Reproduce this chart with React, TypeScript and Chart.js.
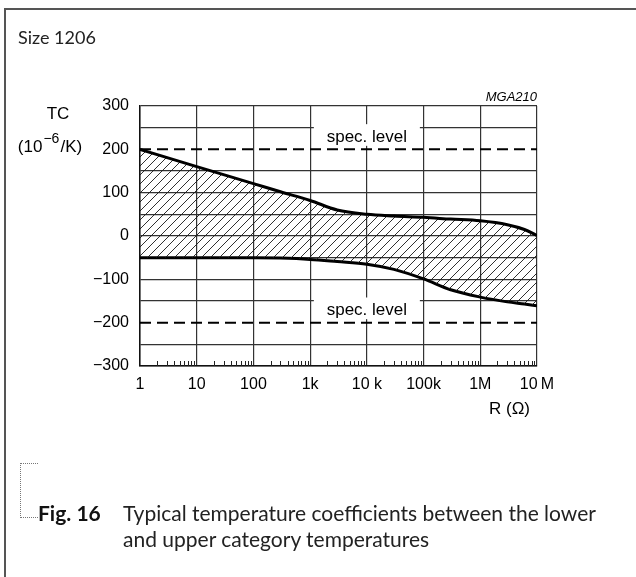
import React, { useEffect, useRef } from "react";
import { Chart, registerables } from "chart.js";

Chart.register(...registerables);

// ---- data ----
const R_OHM = [1, 10, 100, 300, 1e3, 3e3, 1e4, 3e4, 1e5, 3e5, 1e6, 3e6, 6e6, 1e7];
const TC_UPPER = [200, 160, 121, 102, 82, 60, 50, 46, 43, 39, 35, 26, 15, 1];
const TC_LOWER = [-50, -50, -50, -51, -54, -59, -65, -77, -99, -124, -141, -152, -157, -161];
const SPEC_R = [1, 1e7];
const SPEC_UPPER = [200, 200];
const SPEC_LOWER = [-200, -200];
const X_TICKS = [1, 10, 100, 1e3, 1e4, 1e5, 1e6, 1e7];
const X_TICK_LABELS = ["1", "10", "100", "1k", "10 k", "100k", "1M", "10\u2009M"];
const Y_TICKS = [300, 200, 100, 0, -100, -200, -300];
const Y_TICK_LABELS = ["300", "200", "100", "0", "\u2212100", "\u2212200", "\u2212300"];
const MINOR_STEPS = [2, 3, 4, 5, 6, 7, 8, 9];
const SPEC_LABEL = "spec. level";
const SPEC_LABEL_R = 1e4;
const Y_TITLE = "TC";
const Y_UNIT = ["(10", "\u22126", "/K)"];
const X_TITLE = "R (\u03A9)";
const CODE_LABEL = "MGA210";
const SIZE_LABEL = "Size 1206";
const CAPTION_FIG = "Fig. 16";
const CAPTION_LINES = [
  "Typical temperature coefficients between the lower",
  "and upper category temperatures",
];

const SANS = "'Liberation Sans', Arial, sans-serif";
const GRID = "#333";

function makeHatch(): CanvasPattern | string {
  const s = 9;
  const c = document.createElement("canvas");
  c.width = s;
  c.height = s;
  const g = c.getContext("2d");
  if (!g) return "rgba(0,0,0,0.2)";
  g.strokeStyle = "#1a1a1a";
  g.lineWidth = 0.9;
  g.beginPath();
  g.moveTo(-1, s + 1);
  g.lineTo(s + 1, -1);
  g.moveTo(-1, 1);
  g.lineTo(1, -1);
  g.moveTo(s - 1, s + 1);
  g.lineTo(s + 1, s - 1);
  g.stroke();
  return g.createPattern(c, "repeat") || "rgba(0,0,0,0.2)";
}

const decorPlugin = {
  id: "decor",
  afterDatasetsDraw(chart: any) {
    const { ctx, chartArea, scales } = chart;
    const x = scales.x;
    const y = scales.y;
    ctx.save();
    // minor ticks along the bottom edge
    ctx.strokeStyle = "#222";
    ctx.lineWidth = 1;
    ctx.beginPath();
    for (let i = 0; i < X_TICKS.length - 1; i++) {
      for (const m of MINOR_STEPS) {
        const px = Math.round(x.getPixelForValue(X_TICKS[i] * m)) + 0.5;
        ctx.moveTo(px, chartArea.bottom);
        ctx.lineTo(px, chartArea.bottom - 5);
      }
    }
    ctx.stroke();
    // spec level labels
    const cx = x.getPixelForValue(SPEC_LABEL_R);
    const levels = [SPEC_UPPER[0], SPEC_LOWER[0]];
    for (const lv of levels) {
      const lineY = y.getPixelForValue(lv);
      const gridY = y.getPixelForValue(lv + 50);
      const top = gridY - 3.5;
      const bottom = lineY - 3.5;
      ctx.fillStyle = "#fff";
      ctx.fillRect(cx - 53, top, 106, bottom - top);
      ctx.fillStyle = "#000";
      ctx.font = `17px ${SANS}`;
      ctx.textAlign = "center";
      ctx.textBaseline = "alphabetic";
      ctx.fillText(SPEC_LABEL, cx, lineY - 7.5);
    }
    ctx.restore();
  },
  afterDraw(chart: any) {
    const { ctx, chartArea } = chart;
    ctx.save();
    ctx.fillStyle = "#000";
    ctx.textBaseline = "alphabetic";
    // y title
    ctx.font = `17px ${SANS}`;
    ctx.textAlign = "center";
    ctx.fillText(Y_TITLE, chartArea.left - 82, chartArea.top + 13);
    // unit with superscript
    const big = `17px ${SANS}`;
    const small = `14px ${SANS}`;
    ctx.font = big;
    const w0 = ctx.measureText(Y_UNIT[0]).width;
    const w2 = ctx.measureText(Y_UNIT[2]).width;
    ctx.font = small;
    const w1 = ctx.measureText(Y_UNIT[1]).width;
    const gap = 1;
    const total = w0 + w1 + w2 + 2 * gap;
    const baseY = chartArea.top + 46;
    let sx = chartArea.left - 90 - total / 2;
    ctx.textAlign = "left";
    ctx.font = big;
    ctx.fillText(Y_UNIT[0], sx, baseY);
    sx += w0 + gap;
    ctx.font = small;
    ctx.fillText(Y_UNIT[1], sx, baseY - 9);
    sx += w1 + gap;
    ctx.font = big;
    ctx.fillText(Y_UNIT[2], sx, baseY);
    // code label
    ctx.font = `italic 13px ${SANS}`;
    ctx.textAlign = "right";
    ctx.fillText(CODE_LABEL, chartArea.right, chartArea.top - 5);
    // x title
    ctx.font = `17px ${SANS}`;
    ctx.textAlign = "right";
    ctx.fillText(X_TITLE, chartArea.right - 7, chartArea.bottom + 48);
    ctx.restore();
  },
};

export default function App() {
  const ref = useRef<HTMLCanvasElement>(null);

  useEffect(() => {
    if (!ref.current) return;
    const hatch = makeHatch();
    const toPts = (xs: number[], ys: number[]) => xs.map((v, i) => ({ x: v, y: ys[i] }));
    const chart = new Chart(ref.current, {
      type: "line",
      data: {
        datasets: [
          {
            data: toPts(R_OHM, TC_UPPER),
            borderColor: "#000",
            borderWidth: 3,
            pointRadius: 0,
            cubicInterpolationMode: "monotone",
            fill: "+1",
            backgroundColor: hatch as any,
          },
          {
            data: toPts(R_OHM, TC_LOWER),
            borderColor: "#000",
            borderWidth: 3,
            pointRadius: 0,
            cubicInterpolationMode: "monotone",
            fill: false,
          },
          {
            data: toPts(SPEC_R, SPEC_UPPER),
            borderColor: "#000",
            borderWidth: 2,
            borderDash: [11, 6],
            pointRadius: 0,
            fill: false,
          },
          {
            data: toPts(SPEC_R, SPEC_LOWER),
            borderColor: "#000",
            borderWidth: 2,
            borderDash: [11, 6],
            pointRadius: 0,
            fill: false,
          },
        ],
      },
      options: {
        animation: false,
        responsive: false,
        maintainAspectRatio: false,
        layout: { padding: { left: 0, top: 106, right: 99, bottom: 171 } },
        plugins: { legend: { display: false }, tooltip: { enabled: false } },
        scales: {
          x: {
            type: "logarithmic",
            position: "bottom",
            min: 1,
            max: 1e7,
            afterBuildTicks: (axis: any) => {
              axis.ticks = X_TICKS.map((v) => ({ value: v }));
            },
            afterFit: (axis: any) => {
              axis.height = 40;
            },
            ticks: {
              autoSkip: false,
              maxRotation: 0,
              padding: 9,
              color: "#000",
              font: { family: SANS, size: 16 },
              callback: (_v: any, i: number) => X_TICK_LABELS[i],
            },
            grid: { color: GRID, lineWidth: 1.2, drawTicks: false },
            border: { display: true, color: "#111", width: 1.5 },
          },
          y: {
            type: "linear",
            min: -300,
            max: 300,
            afterFit: (axis: any) => {
              axis.width = 140;
            },
            ticks: {
              stepSize: 50,
              autoSkip: false,
              padding: 11,
              color: "#000",
              font: { family: SANS, size: 16 },
              callback: (v: any) => {
                const i = Y_TICKS.indexOf(Number(v));
                return i >= 0 ? Y_TICK_LABELS[i] : "";
              },
            },
            grid: {
              drawTicks: false,
              lineWidth: 1.2,
              color: (c: any) =>
                c.tick && (c.tick.value === SPEC_UPPER[0] || c.tick.value === SPEC_LOWER[0])
                  ? "rgba(0,0,0,0)"
                  : GRID,
            },
            border: { display: true, color: "#111", width: 1.5 },
          },
        },
      } as any,
      plugins: [decorPlugin],
    });
    return () => chart.destroy();
  }, []);

  const lato = "Lato, 'Open Sans', sans-serif";
  return (
    <div
      style={{
        position: "absolute",
        left: 0,
        top: 0,
        width: 636,
        height: 577,
        background: "#fff",
        overflow: "hidden",
      }}
    >
      <div
        style={{
          position: "absolute",
          left: 4,
          top: 8,
          right: -10,
          bottom: -10,
          borderTop: "2px solid #555",
          borderLeft: "2px solid #555",
        }}
      />
      <canvas
        ref={ref}
        width={636}
        height={577}
        style={{ position: "absolute", left: 0, top: 0, width: 636, height: 577 }}
      />
      <div
        style={{
          position: "absolute",
          left: 18,
          top: 28,
          fontFamily: lato,
          fontSize: 18,
          lineHeight: "18px",
          color: "#222",
          whiteSpace: "nowrap",
        }}
      >
        {SIZE_LABEL}
      </div>
      <div
        style={{
          position: "absolute",
          left: 20,
          top: 463,
          width: 17,
          height: 53,
          borderLeft: "1px dotted #777",
          borderTop: "1px dotted #777",
          borderBottom: "1px dotted #777",
        }}
      />
      <div
        style={{
          position: "absolute",
          left: 38,
          top: 500,
          fontFamily: lato,
          fontSize: 21,
          lineHeight: "26px",
          fontWeight: 700,
          color: "#111",
          whiteSpace: "nowrap",
        }}
      >
        {CAPTION_FIG}
      </div>
      <div
        style={{
          position: "absolute",
          left: 123,
          top: 500,
          fontFamily: lato,
          fontSize: 21,
          lineHeight: "26px",
          color: "#222",
          whiteSpace: "nowrap",
        }}
      >
        {CAPTION_LINES.map((l, i) => (
          <div key={i}>{l}</div>
        ))}
      </div>
    </div>
  );
}
